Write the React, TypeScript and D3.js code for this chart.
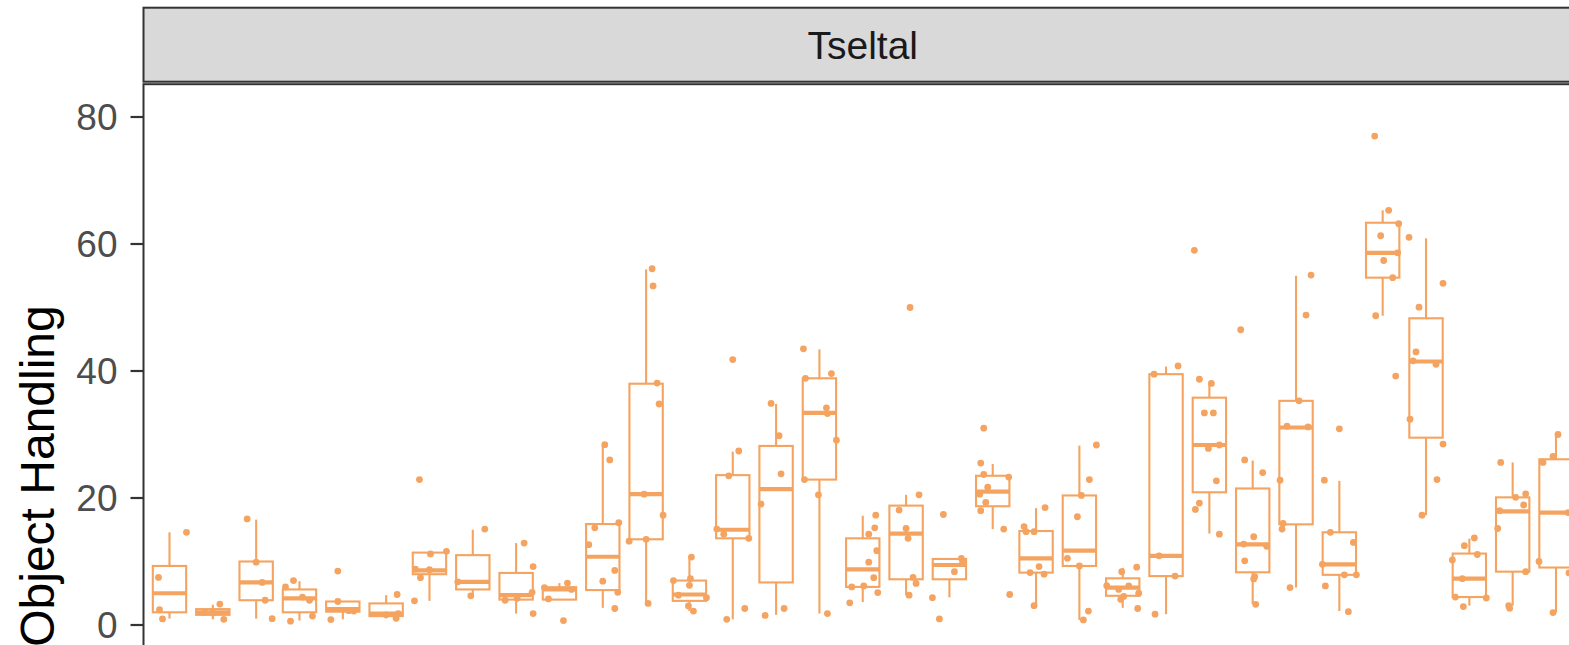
import React from "react";
import * as d3 from "d3";

// ---- data ----
const facetLabel = "Tseltal";
const yTitle = "Object Handling";
const yTicks = [0, 20, 40, 60, 80];
const categories = d3.range(33).map((i) => `C${String(i + 1).padStart(2, "0")}`);

const whiskerLow = [1.0, 0.9, 1.0, 0.7, 0.9, 1.05, 3.8, 4.6, 1.8, 4.0, 2.7, 3.4, 2.2, 0.9, 1.6, 1.8, 3.6, 4.7, 4.35, 15.1, 3.05, 0.8, 2.7, 1.7, 14.4, 3.3, 5.9, 2.2, 48.7, 17.3, 3.05, 3.05, 1.95];
const q1 = [2.0, 1.6, 3.9, 2.0, 2.1, 1.4, 8.0, 5.6, 4.0, 4.0, 5.5, 13.5, 3.8, 13.65, 6.7, 22.9, 6.0, 7.2, 7.2, 18.7, 8.25, 9.3, 4.6, 7.7, 20.9, 8.3, 15.85, 7.9, 54.7, 29.5, 4.4, 8.4, 9.05];
const median = [5.0, 2.0, 6.7, 4.2, 2.5, 1.8, 8.6, 6.8, 4.7, 5.6, 10.75, 20.6, 4.8, 15.0, 21.4, 33.4, 8.75, 14.4, 9.45, 21.0, 10.5, 11.7, 5.9, 10.9, 28.35, 12.7, 31.1, 9.55, 58.6, 41.5, 7.3, 17.9, 17.7];
const q3 = [9.3, 2.5, 10.0, 5.6, 3.7, 3.4, 11.4, 11.0, 8.2, 5.95, 15.9, 38.0, 7.0, 23.6, 28.2, 38.85, 13.65, 18.8, 10.4, 23.5, 14.8, 20.4, 7.35, 39.5, 35.8, 21.5, 35.3, 14.6, 63.35, 48.3, 11.25, 20.1, 26.1];
const whiskerHigh = [14.6, 3.2, 16.6, 6.9, 3.7, 4.7, 11.6, 15.0, 12.9, 6.6, 28.3, 56.0, 10.7, 27.3, 34.8, 43.4, 17.2, 20.5, 10.5, 25.35, 18.4, 28.25, 9.0, 40.7, 38.05, 25.9, 55.0, 22.7, 65.3, 60.9, 13.6, 25.6, 30.0];

// observations: [value, horizontal jitter (in 1/43 of a category step)]
const observations: [number, number][][] = [
  [[7.5, -11], [2.4, -10], [0.95, -7], [14.6, 17]],
  [[1.9, 0], [3.3, 7], [0.9, 11], [2.0, -8]],
  [[16.7, -9], [9.9, 0], [6.7, 6], [3.9, 9], [1.0, 16]],
  [[6.0, -14], [7.0, -6], [4.4, 3], [3.9, 10], [1.4, 13], [0.6, -9]],
  [[0.85, -12], [8.5, -5], [3.7, -5], [2.25, 6], [2.2, 11]],
  [[4.8, 11], [1.05, 10], [1.6, 0], [1.8, 12]],
  [[22.9, -10], [11.2, 1], [11.6, 17], [7.45, -9], [3.8, -15], [8.7, 0], [8.8, -14]],
  [[15.1, 12], [6.8, -15], [4.6, -2]],
  [[12.9, 8], [9.2, 17], [5.15, 16], [3.9, -11], [1.8, 17], [4.2, 1]],
  [[5.9, -15], [4.1, -11], [6.6, 8], [5.6, 12], [0.7, 4]],
  [[28.4, 2], [26.0, 7], [15.3, -8], [16.1, 16], [12.65, -14], [8.6, 12], [6.9, 0], [5.15, 15], [2.6, 12]],
  [[56.1, 6], [53.4, 7], [38.1, 11], [34.8, 13], [20.6, -2], [17.3, 17], [13.2, -17], [13.5, 0], [3.4, 2]],
  [[10.7, 2], [7.0, -16], [7.3, 1], [6.25, 0], [4.7, -11], [4.3, 17], [3.0, -1], [2.2, 4]],
  [[27.4, 6], [23.5, -4], [15.1, -16], [14.3, -9], [13.65, 16], [2.6, 12], [0.9, -6], [41.8, 0]],
  [[34.9, -5], [29.8, 3], [23.8, 5], [19.05, -15], [1.5, -11], [2.6, 8]],
  [[43.5, -16], [39.6, 12], [38.85, -14], [34.2, 7], [33.3, 8], [29.1, 17], [22.9, -15], [20.5, -1], [1.8, 8]],
  [[17.3, 13], [15.3, 12], [14.3, 6], [11.7, 14], [9.9, 6], [7.45, 11], [6.0, -11], [6.15, 1], [5.1, 15], [3.5, -13]],
  [[20.5, 13], [18.1, -7], [15.2, 0], [13.65, 2], [7.5, 7], [6.55, 10], [4.7, 3], [50.0, 4]],
  [[10.5, 12], [9.7, 13], [8.4, 5], [4.3, -17], [0.95, -10], [17.4, -6], [10.0, 14]],
  [[31.0, -9], [25.5, -12], [23.7, -9], [23.3, 16], [21.7, -5], [20.6, -13], [19.3, -7], [18.0, -12], [15.1, 11], [4.8, 17]],
  [[18.5, 9], [15.5, -12], [14.7, -10], [14.7, -2], [9.2, 3], [8.25, -6], [8.0, 8], [3.05, -2]],
  [[28.35, 17], [22.9, 10], [20.4, 2], [17.05, -2], [10.5, -12], [9.3, 0], [2.2, 9], [0.8, 4]],
  [[8.4, -1], [9.1, 14], [6.2, -16], [6.15, 6], [5.0, 16], [4.5, 1], [4.05, -2], [2.6, 15], [5.6, -4]],
  [[39.5, -12], [40.8, 12], [10.9, -7], [7.7, 9], [1.7, -11]],
  [[38.7, -10], [38.05, 2], [33.4, -5], [33.4, 4], [27.8, -1], [28.35, 10], [22.7, 7], [19.2, -10], [18.2, -14], [14.3, 10], [59.0, -15]],
  [[46.5, -12], [26.0, -8], [24.0, 10], [13.9, 1], [12.75, -9], [12.4, 14], [10.1, -8], [7.6, 2], [7.25, 1], [3.25, 3]],
  [[55.1, 15], [48.8, 10], [35.3, 3], [31.3, -9], [31.2, 12], [22.8, -16], [16.0, -13], [15.1, -14], [5.9, -6]],
  [[30.9, 0], [22.8, -15], [14.6, -9], [13.0, 14], [9.55, -17], [7.9, 5], [7.9, 17], [6.15, -14], [2.1, 9]],
  [[77.0, -8], [65.3, 6], [63.2, 16], [61.3, -2], [57.4, 1], [58.6, 15], [54.7, 10], [48.7, -7], [39.2, 13]],
  [[61.05, -17], [53.8, 17], [50.05, -7], [43.0, -10], [41.6, -13], [41.05, 10], [32.4, -16], [28.5, 17], [22.9, 11], [17.3, -4]],
  [[13.7, 5], [12.5, -5], [11.1, 8], [10.25, -17], [7.3, -7], [4.4, -14], [4.25, 17], [2.9, -6]],
  [[25.6, -12], [20.1, 3], [20.65, 13], [18.9, 11], [18.0, -13], [15.2, -15], [8.4, 13], [3.05, -4], [2.65, -3]],
  [[30.0, 2], [26.55, -3], [25.6, -13], [17.7, 12], [10.0, -17], [8.2, 13], [1.95, -3]],
];

// ---- layout ----
const W = 1569;
const H = 645;
const panelLeft = 143.5;
const panelRight = 1582;
const stripTop = 7.7;
const stripBottom = 81.7;
const panelTop = 84.2;
const ORANGE = "#F4A460";
const DARK = "#333333";
const FONT = "'Liberation Sans', Arial, Helvetica, sans-serif";

export default function App() {
  const x = d3.scalePoint<string>().domain(categories).range([panelLeft, panelRight]).padding(0.6);
  const step = x.step();
  const y = d3.scaleLinear().domain([0, 80]).range([625, 117]);
  const boxW = step * 0.77;
  const jit = (j: number) => (j / 43.34) * step;

  return (
    <svg
      width={W}
      height={H}
      style={{ position: "absolute", left: 0, top: 0, background: "white" }}
      fontFamily={FONT}
    >
      <rect x={0} y={0} width={W} height={H} fill="white" />
      {/* strip */}
      <rect
        x={panelLeft}
        y={stripTop}
        width={panelRight - panelLeft}
        height={stripBottom - stripTop}
        fill="#D9D9D9"
        stroke={DARK}
        strokeWidth={2}
      />
      <text
        x={(panelLeft + panelRight) / 2}
        y={(stripTop + stripBottom) / 2}
        dy="0.36em"
        textAnchor="middle"
        fontSize={39}
        fill="#1A1A1A"
      >
        {facetLabel}
      </text>

      {/* panel border */}
      <rect
        x={panelLeft}
        y={panelTop}
        width={panelRight - panelLeft}
        height={H + 50 - panelTop}
        fill="none"
        stroke={DARK}
        strokeWidth={2}
      />

      {/* y axis ticks and labels */}
      {yTicks.map((t) => (
        <g key={t}>
          <line x1={panelLeft - 13} x2={panelLeft} y1={y(t)} y2={y(t)} stroke={DARK} strokeWidth={2.2} />
          <text
            x={panelLeft - 26}
            y={y(t)}
            dy="0.36em"
            textAnchor="end"
            fontSize={37}
            fill="#4D4D4D"
          >
            {t}
          </text>
        </g>
      ))}
      <text
        transform={`translate(54, 476) rotate(-90)`}
        textAnchor="middle"
        fontSize={48}
        fill="#000"
      >
        {yTitle}
      </text>

      {/* boxplots */}
      {categories.map((c, i) => {
        const cx = x(c)!;
        return (
          <g key={c} stroke={ORANGE} strokeWidth={2.1} fill="none">
            <line x1={cx} x2={cx} y1={y(q3[i])} y2={y(whiskerHigh[i])} />
            <line x1={cx} x2={cx} y1={y(q1[i])} y2={y(whiskerLow[i])} />
            <rect
              x={cx - boxW / 2}
              y={y(q3[i])}
              width={boxW}
              height={y(q1[i]) - y(q3[i])}
              fill="white"
            />
            <line x1={cx - boxW / 2} x2={cx + boxW / 2} y1={y(median[i])} y2={y(median[i])} strokeWidth={4.2} />
          </g>
        );
      })}

      {/* jittered points */}
      {categories.map((c, i) => {
        const cx = x(c)!;
        return (
          <g key={"p" + c} fill={ORANGE}>
            {observations[i].map(([v, j], k) => (
              <circle key={k} cx={cx + jit(j)} cy={y(v)} r={3.4} />
            ))}
          </g>
        );
      })}
    </svg>
  );
}
